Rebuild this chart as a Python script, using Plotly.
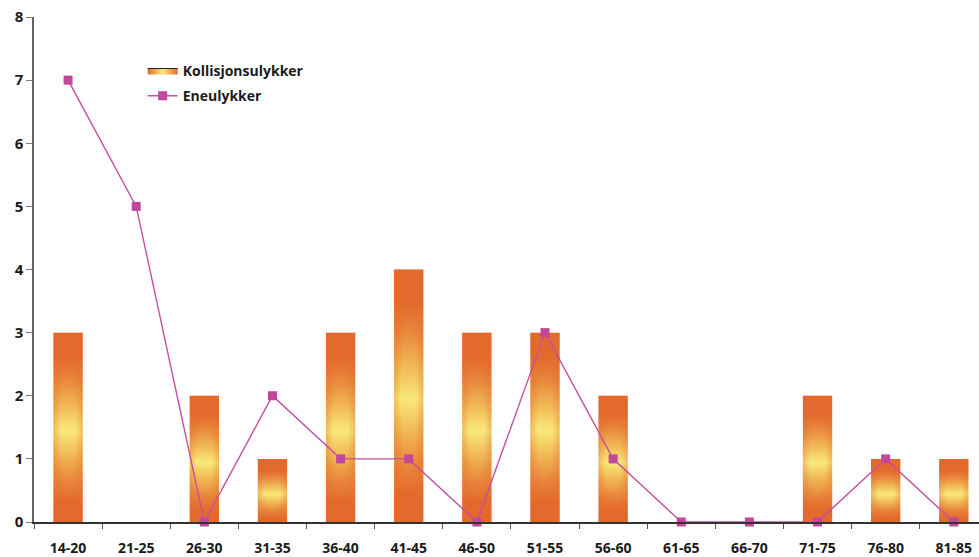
import plotly.graph_objects as go

# Age groups and accident counts
age_groups = ["14-20", "21-25", "26-30", "31-35", "36-40", "41-45", "46-50",
              "51-55", "56-60", "61-65", "66-70", "71-75", "76-80", "81-85"]
kollisjon = [3, 0, 2, 1, 3, 4, 3, 3, 2, 0, 0, 2, 1, 1]
eneulykker = [7, 5, 0, 2, 1, 1, 0, 3, 1, 0, 0, 0, 1, 0]
y_ticks = [0, 1, 2, 3, 4, 5, 6, 7, 8]

BAR_HALF = 0.215
ORANGE = "#e3692c"
YELLOW = "#f9e97a"
PINK = "#c5509f"
FONT = "Open Sans"

# orange at top and bottom, broad yellow glow in the middle
vertical_scale = [[0, ORANGE], [0.12, ORANGE], [0.24, "#e98a3d"], [0.36, "#f0b453"],
                  [0.5, YELLOW], [0.64, "#f0b453"], [0.76, "#e98a3d"], [0.88, ORANGE], [1, ORANGE]]
# slight darkening towards the sides
edge_scale = [[0, "rgba(227,105,44,0)"], [0.5, "rgba(227,105,44,0)"], [1, "rgba(227,105,44,0.35)"]]

fig = go.Figure()

for i, v in enumerate(kollisjon):
    if v <= 0:
        continue
    xs = [i - BAR_HALF, i + BAR_HALF, i + BAR_HALF, i - BAR_HALF, i - BAR_HALF]
    ys = [0, 0, v, v, 0]
    fig.add_trace(go.Scatter(
        x=xs, y=ys, mode="lines", line=dict(width=0, color=ORANGE),
        fill="toself",
        fillgradient=dict(type="vertical", start=0, stop=v, colorscale=vertical_scale),
        name="Kollisjonsulykker", legendgroup="koll", showlegend=False,
        hoverinfo="skip",
    ))
    fig.add_trace(go.Scatter(
        x=xs, y=ys, mode="lines", line=dict(width=0, color=ORANGE),
        fill="toself",
        fillgradient=dict(type="radial", colorscale=edge_scale),
        legendgroup="koll", showlegend=False, hoverinfo="skip",
    ))

# legend entry for the bars
fig.add_trace(go.Scatter(
    x=[None], y=[None], mode="lines",
    line=dict(width=1, color="#222"),
    fill="toself",
    fillgradient=dict(type="horizontal",
                      colorscale=[[0, ORANGE], [0.5, YELLOW], [1, ORANGE]]),
    name="Kollisjonsulykker", legendgroup="koll", showlegend=True,
))

fig.add_trace(go.Scatter(
    x=list(range(len(age_groups))),
    y=eneulykker,
    mode="lines+markers",
    name="Eneulykker",
    line=dict(color=PINK, width=1.4),
    marker=dict(symbol="square", size=9, color="#c2479b"),
    cliponaxis=False,
))

fig.update_layout(
    width=979, height=557,
    margin=dict(l=34, r=0, t=17, b=31),
    paper_bgcolor="white",
    plot_bgcolor="white",
    font=dict(family=FONT, size=14, color="#1a1a1a"),
    legend=dict(
        x=0.115, y=0.925, xanchor="left", yanchor="top",
        font=dict(family=FONT, size=14, color="#1a1a1a", weight="bold"),
        bgcolor="rgba(0,0,0,0)",
        tracegroupgap=4,
    ),
    xaxis=dict(
        range=[-0.5, 13.37],
        tickvals=list(range(len(age_groups))),
        ticktext=age_groups,
        ticks="outside", ticklen=12, tickcolor="rgba(0,0,0,0)",
        tickfont=dict(family=FONT, size=14, weight="bold"),
        minor=dict(tickvals=[i + 0.5 for i in range(-1, len(age_groups))],
                   ticks="outside", ticklen=5, tickcolor="#555", tickwidth=1.2),
        showline=True, linecolor="#333", linewidth=1.5,
        showgrid=False, zeroline=False,
    ),
    yaxis=dict(
        range=[0, 8],
        tickvals=y_ticks,
        ticks="outside", ticklen=6, tickcolor="#777", tickwidth=1.2,
        tickfont=dict(family=FONT, size=15, weight="bold"),
        showline=True, linecolor="#666", linewidth=1.5,
        showgrid=False, zeroline=False,
    ),
)

fig.write_html("out.html")
